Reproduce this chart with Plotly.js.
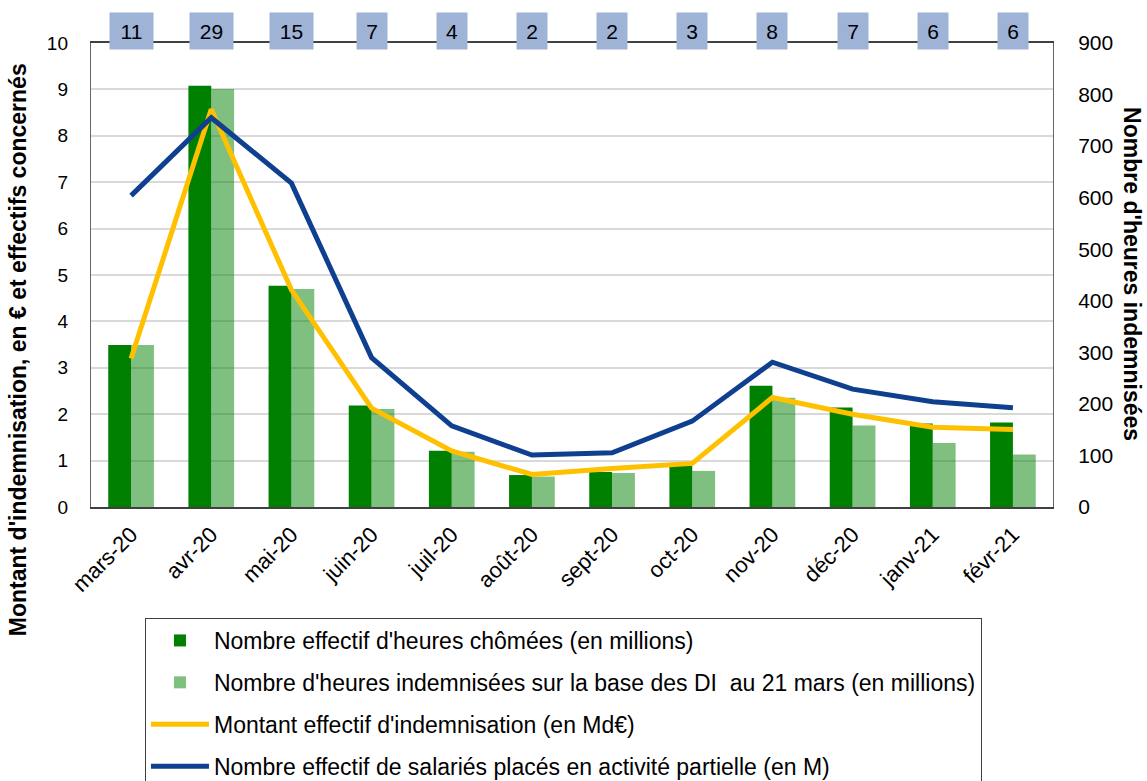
<!DOCTYPE html>
<html>
<head>
<meta charset="utf-8">
<script src="https://cdn.plot.ly/plotly-3.0.1.min.js"></script>
<style>html,body{margin:0;padding:0;background:#fff;}#chart{width:1147px;height:781px;}</style>
</head>
<body>
<div id="chart"></div>
<script>
var months = ["mars-20","avr-20","mai-20","juin-20","juil-20","août-20","sept-20","oct-20","nov-20","déc-20","janv-21","févr-21"];
var heuresChomees = [314, 817, 429, 197, 109, 62, 68, 80, 235, 193, 162, 164];
var heuresIndemnisees = [314, 811, 423, 190, 107, 59, 66, 70, 212, 158, 124, 102];
var montantIndemnisation = [3.20, 8.57, 4.68, 2.13, 1.21, 0.70, 0.83, 0.94, 2.36, 2.00, 1.72, 1.67];
var salariesPlaces = [6.71, 8.39, 6.98, 3.22, 1.75, 1.12, 1.17, 1.85, 3.12, 2.54, 2.27, 2.14];
var topLabels = [11, 29, 15, 7, 4, 2, 2, 3, 8, 7, 6, 6];

var FONT = "Arial, 'Liberation Sans', sans-serif";

var traces = [
  {type:"bar", name:"Nombre effectif d'heures chômées (en millions)", x:months, y:heuresChomees,
   yaxis:"y", marker:{color:"#008000"}, legendgroup:"a", hoverinfo:"x+y"},
  {type:"bar", name:"Nombre d'heures indemnisées sur la base des DI  au 21 mars (en millions)", x:months, y:heuresIndemnisees,
   yaxis:"y", marker:{color:"rgba(0,128,0,0.5)"}, legendgroup:"b", hoverinfo:"x+y"},
  {type:"scatter", mode:"lines", name:"Montant effectif d'indemnisation (en Md€)", x:months, y:montantIndemnisation,
   yaxis:"y2", line:{color:"#FFC000", width:5}, legendgroup:"c"},
  {type:"scatter", mode:"lines", name:"Nombre effectif de salariés placés en activité partielle (en M)", x:months, y:salariesPlaces,
   yaxis:"y2", line:{color:"#0F3F8F", width:5}, legendgroup:"d"}
];

var annotations = topLabels.map(function(v, i){
  return {x:months[i], xref:"x", y:1.026, yref:"paper", yanchor:"middle", xanchor:"center",
    text:String(v), showarrow:false, bgcolor:"#9EB3D6", borderpad:0,
    width: String(v).length > 1 ? 43 : 30, height:36,
    font:{family:FONT, size:21, color:"#000"}};
});
annotations.push({xref:"paper", yref:"paper", x:-0.0759, y:0.34, xanchor:"center", yanchor:"middle",
  textangle:-90, showarrow:false, text:"<b>Montant d'indemnisation, en € et effectifs concernés</b>",
  font:{family:FONT, size:23, color:"#000"}});
annotations.push({xref:"paper", yref:"paper", x:1.0821, y:0.502, xanchor:"center", yanchor:"middle",
  textangle:90, showarrow:false, text:"<b>Nombre d'heures indemnisées</b>",
  font:{family:FONT, size:23, color:"#000"}});

var layout = {
  width:1147, height:781,
  margin:{l:91, r:94, t:43, b:274, autoexpand:false},
  paper_bgcolor:"#fff", plot_bgcolor:"#fff",
  font:{family:FONT, size:18, color:"#000"},
  barmode:"group", bargap:0.43, bargroupgap:0,
  showlegend:true,
  legend:{x:0.0561, xanchor:"left", y:-0.2392, yanchor:"top", orientation:"v",
    bordercolor:"#404040", borderwidth:1, bgcolor:"#fff",
    font:{family:FONT, size:23, color:"#000"}, traceorder:"grouped", tracegroupgap:9, itemwidth:58},
  xaxis:{type:"category", tickangle:-45, ticks:"", showline:true, linecolor:"#404040", linewidth:2, mirror:true,
    tickfont:{family:FONT, size:22}, ticklabelstandoff:4, showgrid:false, zeroline:false},
  yaxis:{side:"right", range:[0,900], dtick:100, showgrid:false, zeroline:false, showline:true,
    linecolor:"#666", linewidth:1, mirror:true, ticks:"", tickfont:{family:FONT, size:21}, ticklabelstandoff:20},
  yaxis2:{overlaying:"y", side:"left", range:[0,10], dtick:1, showgrid:true, gridcolor:"#D9D9D9", gridwidth:2,
    zeroline:false, showline:false, ticks:"", tickfont:{family:FONT, size:19}, ticklabelstandoff:22},
  annotations:annotations
};

Plotly.newPlot("chart", traces, layout, {displayModeBar:false, staticPlot:true});
</script>
</body>
</html>
